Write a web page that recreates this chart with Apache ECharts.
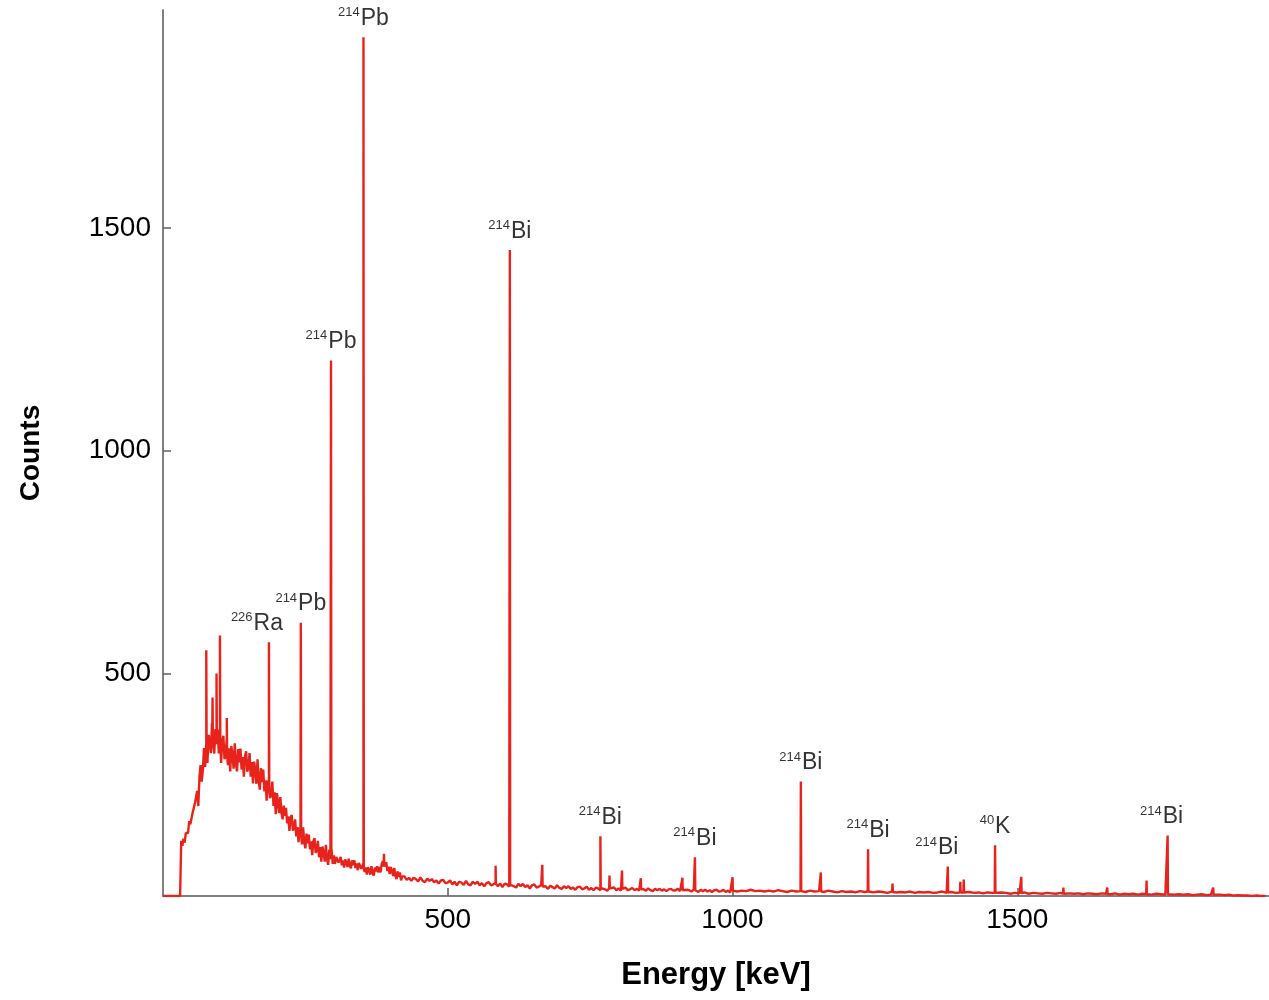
<!DOCTYPE html>
<html>
<head>
<meta charset="utf-8">
<title>Gamma spectrum</title>
<script src="https://cdn.jsdelivr.net/npm/echarts@6/dist/echarts.min.js"></script>
<style>
html, body { margin: 0; padding: 0; background: #fff; }
#chart { width: 1269px; height: 1000px; }
</style>
</head>
<body>
<div id="chart"></div>
<script>
// continuum, low part: 2 keV wide channels from 30 keV
var lowStart = 30, lowStep = 2;
var lowCounts = [
    0, 124, 113, 129, 120, 141, 143, 142, 168, 161,
    163, 187, 188, 208, 206, 236, 202, 268, 294, 257,
    284, 332, 290, 344, 299, 362, 349, 321, 388, 341,
    320, 375, 341, 374, 320, 351, 299, 348, 360, 307,
    318, 352, 294, 332, 280, 337, 316, 286, 343, 297,
    280, 330, 300, 331, 284, 312, 268, 314, 325, 279,
    290, 321, 268, 301, 253, 302, 283, 252, 307, 259,
    239, 287, 256, 284, 235, 260, 214, 259, 269, 220,
    229, 257, 202, 233, 184, 231, 210, 186, 222, 187,
    172, 203, 180, 198, 163, 179, 146, 176, 182, 147,
    153, 172, 134, 155, 121, 153, 139, 116, 154, 121,
    107, 140, 118, 138, 105, 123, 92, 123, 130, 97,
    104, 124, 87, 110, 77, 111, 98, 77, 115, 83,
    70, 104, 83, 104, 72, 91, 72, 88, 91, 75,
    78, 88, 69, 80, 64, 82, 75, 65, 84, 69,
    62, 80, 69, 80, 63, 73, 58, 74, 77, 61,
    64, 74, 54, 64, 48, 65, 58, 48, 67, 52,
    46, 64, 55, 67, 53, 65, 53, 72, 78, 65,
    67, 76, 56, 66, 49, 65, 57, 45, 63, 46,
    38, 55, 43, 53, 35, 44
];

// continuum, middle part: 4 keV wide channels from 424 keV
var midStart = 424, midStep = 4;
var midCounts = [
    44, 36, 41, 34, 41, 38, 33, 42, 34, 31,
    39, 34, 38, 31, 35, 28, 35, 36, 29, 30,
    35, 26, 32, 24, 32, 30, 25, 34, 26, 24,
    32, 27, 32, 24, 29, 22, 29, 31, 24, 26,
    30, 22, 28, 20, 28, 26, 21, 29, 22, 19,
    27, 22, 27, 20, 24, 17, 24, 26, 19, 21,
    25, 18, 22, 16, 23, 20, 17, 24, 18, 16,
    22, 18, 22, 16, 19, 14, 20, 21, 15, 17,
    21, 14, 18, 13, 19, 17, 13, 20, 15, 12,
    19, 15, 19, 13, 17, 12, 17, 19, 13, 15,
    18, 13, 16, 12, 16, 15, 12, 17, 13, 11,
    16, 13, 16, 12, 15, 11, 15, 16, 12, 13,
    16, 11, 14, 10, 14, 13, 10, 15, 11, 9,
    14, 11, 14, 10, 13, 9, 13, 14, 10, 11,
    14, 9, 12, 8
];

// continuum, high part: 8 keV wide channels from 1000 keV
var highStart = 1000, highStep = 8;
var highCounts = [
    13, 10, 12, 11, 14, 11, 12, 10,
    12, 10, 13, 11, 9, 12, 10, 11, 9, 12,
    10, 11, 9, 12, 10, 8, 11, 9, 10, 8,
    11, 9, 10, 8, 10, 9, 7, 10, 8, 9,
    8, 10, 7, 9, 8, 9, 7, 8, 10, 7,
    9, 7, 8, 6, 9, 7, 8, 6, 8, 7,
    6, 8, 7, 5, 7, 6, 8, 5, 7, 6,
    5, 7, 6, 5, 7, 4, 6, 5, 6, 4,
    6, 5, 4, 6, 5, 4, 6, 3, 5, 4,
    5, 3, 5, 4, 3, 5, 4, 3, 4, 3,
    4, 3, 4, 2, 3, 4, 2, 3, 2, 3,
    2, 3, 1, 2, 1, 1, 0, 1, 0, 0
];

// photo peaks (keV), peak height and the continuum under them
var peakEnergy = [76, 87, 94, 100, 112, 186, 242, 295, 352, 388,
    584, 609, 666, 768, 784, 806, 839, 912, 934, 1000,
    1120, 1155, 1238, 1281, 1378, 1400, 1406, 1461, 1507, 1581,
    1658, 1727, 1764, 1844];
var peakTop = [552, 446, 500, 585, 400, 570, 614, 1203, 1929, 95,
    68, 1451, 70, 134, 46, 57, 40, 41, 87, 42,
    257, 53, 105, 28, 66, 32, 37, 114, 43, 19,
    19, 35, 136, 19];
var peakBase = [330, 350, 350, 345, 315, 240, 138, 86, 62, 66,
    27, 25, 21, 18, 17, 16, 15, 13, 13, 12,
    11, 10, 10, 9, 8, 8, 8, 7, 6, 5,
    4, 4, 4, 3];

// isotope labels
var labelEnergy = [186, 242, 295, 352, 609, 768, 934, 1120, 1238, 1378, 1461, 1764];
var labelMass = ['226', '214', '214', '214', '214', '214', '214', '214', '214', '214', '40', '214'];
var labelElement = ['Ra', 'Pb', 'Pb', 'Pb', 'Bi', 'Bi', 'Bi', 'Bi', 'Bi', 'Bi', 'K', 'Bi'];

var xTicks = [500, 1000, 1500];
var yTicks = [500, 1000, 1500];

// 把连续谱和峰合成一条线
var points = [[0, 0]];
lowCounts.forEach(function (c, i) { points.push([lowStart + i * lowStep, c]); });
midCounts.forEach(function (c, i) { points.push([midStart + i * midStep, c]); });
highCounts.forEach(function (c, i) { points.push([highStart + i * highStep, c]); });
peakEnergy.forEach(function (e, i) {
    points.push([e - 0.6, peakBase[i]], [e, peakTop[i]], [e + 0.6, peakBase[i]]);
});
points.sort(function (a, b) { return a[0] - b[0]; });

// 标签水平偏移
var labelShift = { 186: -12, 1378: -11, 1764: -6 };
var labelData = labelEnergy.map(function (e, i) {
    var top = peakTop[peakEnergy.indexOf(e)];
    return {
        value: [e, top],
        mass: labelMass[i],
        element: labelElement[i],
        label: { offset: [labelShift[e] || 0, 0] }
    };
});

var font = '"Liberation Sans", Arial, Helvetica, sans-serif';
var myChart = echarts.init(document.getElementById('chart'));

var option = {
    animation: false,
    backgroundColor: '#fff',
    grid: { left: 163, right: 0, top: 10, bottom: 104 },
    xAxis: {
        type: 'value',
        min: 0,
        max: 1942,
        interval: 500,
        name: 'Energy [keV]',
        nameLocation: 'middle',
        nameGap: 64,
        nameTextStyle: { fontFamily: font, fontSize: 31, fontWeight: 'bold', color: '#000' },
        axisLine: { lineStyle: { color: '#808080', width: 2 } },
        axisTick: { inside: true, length: 8, customValues: xTicks, lineStyle: { color: '#606060', width: 1.5 } },
        axisLabel: {
            customValues: xTicks, margin: 10, fontFamily: font, fontSize: 28, color: '#000',
            formatter: function (v) { return String(v); }
        },
        splitLine: { show: false }
    },
    yAxis: {
        type: 'value',
        min: 0,
        max: 1990,
        interval: 500,
        name: 'Counts',
        nameLocation: 'middle',
        nameRotate: 90,
        nameGap: 118,
        nameTextStyle: { fontFamily: font, fontSize: 28, fontWeight: 'bold', color: '#000' },
        axisLine: { show: true, lineStyle: { color: '#808080', width: 2 } },
        axisTick: { show: true, inside: true, length: 8, customValues: yTicks, lineStyle: { color: '#606060', width: 1.5 } },
        axisLabel: {
            customValues: yTicks, margin: 12, fontFamily: font, fontSize: 28, color: '#000',
            formatter: function (v) { return String(v); }
        },
        splitLine: { show: false }
    },
    series: [{
        name: 'spectrum',
        type: 'line',
        data: points,
        symbol: 'none',
        sampling: false,
        lineStyle: { color: '#e8231c', width: 2.4 },
        silent: true,
        z: 2
    }, {
        name: 'labels',
        type: 'scatter',
        data: labelData,
        symbolSize: 0,
        silent: true,
        z: 3,
        label: {
            show: true,
            position: 'top',
            distance: 6,
            color: '#000',
            formatter: function (p) {
                return '{m|' + p.data.mass + '}{e|' + p.data.element + '}';
            },
            rich: {
                m: { fontFamily: font, fontSize: 13, color: '#000', verticalAlign: 'top', lineHeight: 14, padding: [0, 1, 0, 0] },
                e: { fontFamily: font, fontSize: 23, color: '#000', lineHeight: 25 }
            }
        }
    }]
};

myChart.setOption(option);

window.onresize = function () {
    myChart.resize();
};
</script>
</body>
</html>
